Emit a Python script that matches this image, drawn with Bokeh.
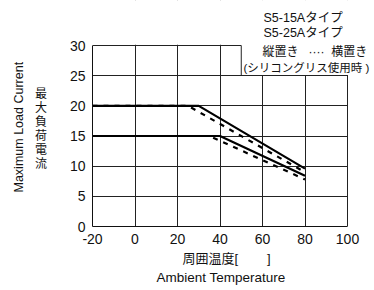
from bokeh.plotting import figure
from bokeh.models import Label, FixedTicker, Title
from bokeh.embed import file_html
from bokeh.resources import INLINE

# ---- data ----
x_ticks = [-20, 0, 20, 40, 60, 80, 100]
x_tick_labels = ["-20", "0", "20", "40", "60", "80", "100"]
y_ticks = [0, 5, 10, 15, 20, 25, 30]

temp_25a_vert = [-20, 30, 80]
curr_25a_vert = [20, 20, 9.6]
temp_25a_horiz = [-20, 25, 80]
curr_25a_horiz = [20, 20, 9.0]

temp_15a_vert = [-20, 40, 80]
curr_15a_vert = [15, 15, 8.4]
temp_15a_horiz = [-20, 35, 80]
curr_15a_horiz = [15, 15, 7.8]

NB = "\u00a0"
legend_lines = ["S5-15Aタイプ", "S5-25Aタイプ",
                "縦置き" + NB * 3 + "····" + NB * 2 + "横置き",
                "(シリコングリス使用時" + NB + ")"]
x_title_jp = "周囲温度[" + NB * 8 + "]"
x_title_en = "Ambient Temperature"
y_title_jp = "\n\n最\n大\n負\n荷\n電\n流"
y_title_en = "Maximum Load Current"

LATIN = "'Liberation Sans', 'Noto Sans CJK JP'"
CJK = "'Noto Sans CJK JP'"
INK = "#111111"

# ---- geometry (canvas px) ----
W, H = 374, 290
FL, FB = 92, 226            # frame left / bottom
PLOT_R, PLOT_T = 347, 45    # where x=100 and y=30 fall
XMIN, XMAX, YMIN, YMAX = -20, 100, 0, 30
PXX = (PLOT_R - FL) / (XMAX - XMIN)
PXY = (FB - PLOT_T) / (YMAX - YMIN)
X_END = XMIN + (W - FL) / PXX
Y_END = YMIN + FB / PXY


def dx(px):
    return XMIN + (px - FL) / PXX


def dy(py):
    return YMIN + (FB - py) / PXY


p = figure(width=W, height=H, x_range=(XMIN, X_END), y_range=(YMIN, Y_END),
           output_backend="svg", toolbar_location=None,
           min_border_left=FL, min_border_right=0,
           min_border_top=0, min_border_bottom=H - FB)
p.title.visible = False
p.outline_line_color = None
p.background_fill_color = "white"
p.border_fill_color = "white"

for ax in (p.xaxis, p.yaxis):
    ax.major_tick_in = 0
    ax.major_tick_out = 0
    ax.minor_tick_in = 0
    ax.minor_tick_out = 0
    ax.axis_line_color = INK
    ax.axis_line_width = 1
    ax.major_label_text_font = LATIN
    ax.major_label_text_font_size = "14px"
    ax.major_label_text_color = INK
    ax.axis_label_text_color = INK
    ax.axis_label_text_font_style = "normal"
p.xaxis.ticker = FixedTicker(ticks=x_ticks)
p.xaxis.major_label_overrides = dict(zip(x_ticks, x_tick_labels))
p.yaxis.ticker = FixedTicker(ticks=y_ticks)
p.xaxis.bounds = (XMIN, XMAX)
p.yaxis.bounds = (YMIN, YMAX)
p.xaxis.major_label_standoff = 7
p.yaxis.major_label_standoff = 7

p.yaxis.axis_label = y_title_jp
p.yaxis.axis_label_orientation = "horizontal"
p.yaxis.axis_label_text_font = CJK
p.yaxis.axis_label_text_font_size = "12px"
p.yaxis.axis_label_text_line_height = 0.83
p.yaxis.axis_label_standoff = 20

# axis titles as Titles (precise placement, outside the frame)
p.add_layout(Title(text=x_title_jp, align="left", offset=182 - FL, standoff=4,
                   text_font=LATIN, text_font_size="13px",
                   text_font_style="normal", text_color=INK), "below")
p.add_layout(Title(text=x_title_en, align="left", offset=156 - FL, standoff=0,
                   text_font=LATIN, text_font_size="13.5px",
                   text_font_style="normal", text_color=INK), "below")
p.add_layout(Title(text=y_title_en, align="left", offset=FB - 192, standoff=12,
                   text_font=LATIN, text_font_size="12.5px",
                   text_font_style="normal", text_color=INK), "left")

for g in (p.xgrid, p.ygrid):
    g.grid_line_color = "#222222"
    g.grid_line_width = 1
    g.grid_line_alpha = 1
p.xgrid.ticker = FixedTicker(ticks=x_ticks)
p.ygrid.ticker = FixedTicker(ticks=y_ticks)

# white areas outside the chart box and behind the legend
EPS = 0.12
BOX_L, BOX_B = 50, 25
p.quad(left=[XMIN - 10, XMAX + EPS * 2, BOX_L],
       right=[X_END + 10, X_END + 10, X_END + 10],
       bottom=[YMAX + EPS, YMIN - 10, BOX_B + EPS],
       top=[Y_END + 10, Y_END + 10, Y_END + 10],
       fill_color="white", line_color=None)
p.segment(x0=[BOX_L], y0=[BOX_B], x1=[BOX_L], y1=[YMAX],
          line_color="#222222", line_width=1)

# curves
for xs, ys in ((temp_25a_vert, curr_25a_vert), (temp_15a_vert, curr_15a_vert)):
    p.line(xs, ys, line_color="black", line_width=2.2)
for xs, ys in ((temp_25a_horiz, curr_25a_horiz), (temp_15a_horiz, curr_15a_horiz)):
    p.line(xs, ys, line_color="black", line_width=2.2, line_dash="5 6")

# legend texts
leg_pos = [(263, 17), (263, 32), (262, 51), (243, 67)]
leg_size = ["12.5px", "12.5px", "12px", "11.5px"]
for txt, (px, py), fs in zip(legend_lines, leg_pos, leg_size):
    p.add_layout(Label(x=dx(px), y=dy(py), text=txt, text_font=LATIN,
                       text_font_size=fs, text_align="left",
                       text_baseline="middle", text_color=INK))

open("out.html", "w").write(file_html(p, INLINE))
